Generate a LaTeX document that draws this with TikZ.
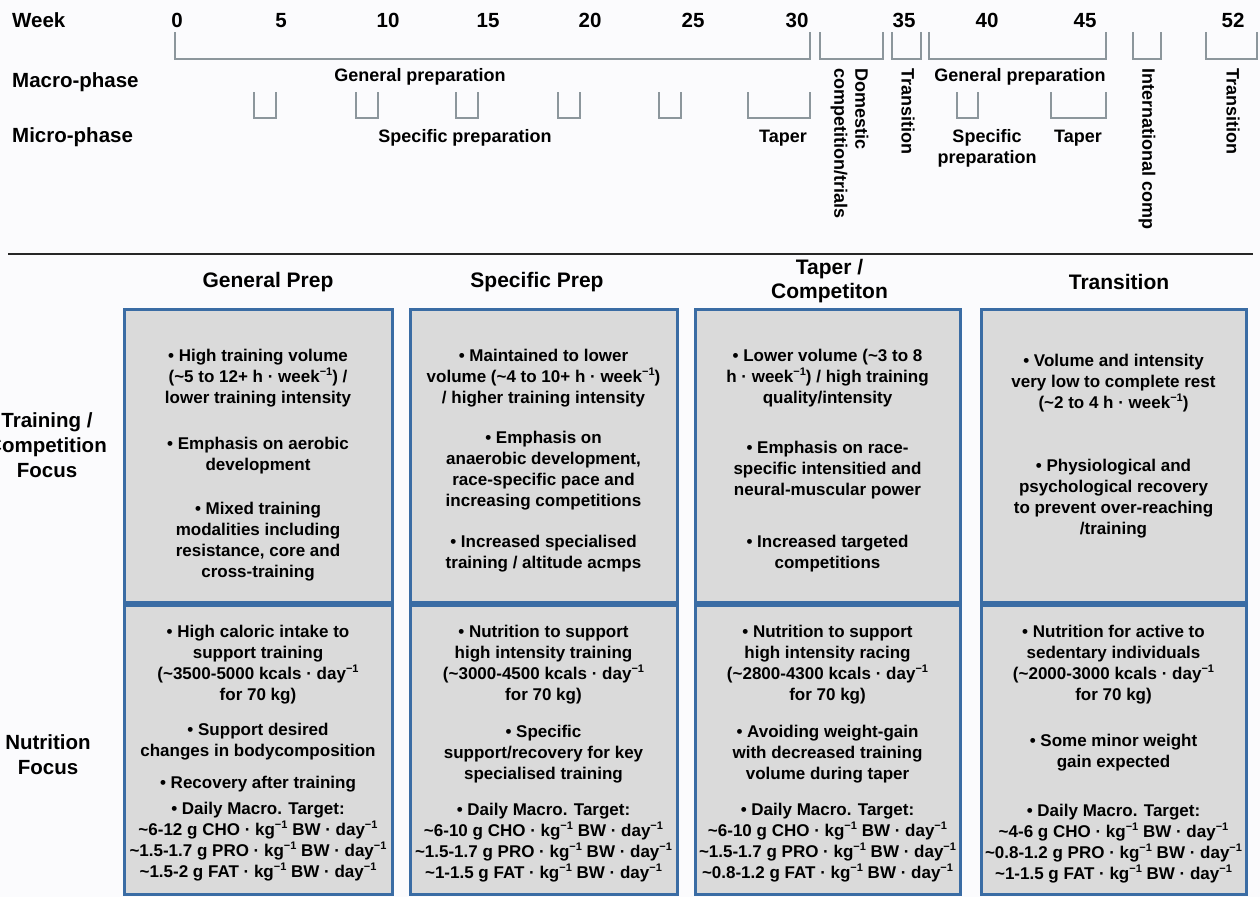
\documentclass[tikz,border=0pt]{standalone}
\usepackage{fontspec}
\setmainfont{Liberation Sans}
\usepackage{tikz}
\usetikzlibrary{positioning}
\definecolor{boxgray}{RGB}{218,218,218}
\definecolor{boxblue}{RGB}{58,108,164}
\definecolor{brkgray}{RGB}{140,150,156}
\definecolor{paper}{RGB}{251,251,253}
\newcommand{\inv}{\raisebox{0.42em}{\fontsize{11}{11}\selectfont −1}}
\newcommand{\ca}{\textasciitilde}

\begin{document}
\begin{tikzpicture}[x=1pt,y=-1pt,
  lbltxt/.style={font=\fontsize{20.5}{25}\selectfont\bfseries,anchor=base west,inner sep=0pt},
  wktxt/.style={font=\fontsize{20.5}{25}\selectfont\bfseries,anchor=base,inner sep=0pt},
  phasetxt/.style={font=\fontsize{18}{21}\selectfont\bfseries,align=center,inner sep=0pt},
  vphasetxt/.style={phasetxt,rotate=-90,anchor=west,align=left},
  brk/.style={draw=brkgray,line width=1.6pt},
  headtxt/.style={font=\fontsize{21}{24}\selectfont\bfseries,align=center,inner sep=0pt},
  rowtxt/.style={font=\fontsize{20.5}{25}\selectfont\bfseries,align=center,inner sep=0pt},
  panel/.style={fill=boxgray,draw=boxblue,line width=3pt},
  itemtxt/.style={font=\fontsize{17}{21}\selectfont\bfseries,align=center,inner sep=0pt}]
\clip (0,0) rectangle (1260,897);
\fill[paper] (0,0) rectangle (1260,897);

% time line
\node[lbltxt] (week) at (12,27) {Week};
\node[lbltxt] (macro) at (12,87) {Macro-phase};
\node[lbltxt] (micro) at (12,142) {Micro-phase};
\foreach \w/\xx in {0/177,5/281,10/388,15/488,20/590,25/693,30/797,35/904,40/987,45/1085,52/1233}
  \node[wktxt] (w\w) at (\xx,27) {\w};
% macro brackets
\foreach \xa/\xb in {175/810,820/883,892/921,929/1106,1133/1161,1206/1257}
  \draw[brk] (\xa,32) -- (\xa,59) -- (\xb,59) -- (\xb,32);
% micro brackets
\foreach \xa/\xb in {254/276,356/378,456/478,558/580,659/681,748/810,957/978,1051/1106}
  \draw[brk] (\xa,92) -- (\xa,118) -- (\xb,118) -- (\xb,92);
\node[phasetxt,anchor=base] (genA) at (420,81) {General preparation};
\node[phasetxt,anchor=base] (genB) at (1020,81) {General preparation};
\node[phasetxt,anchor=base] (specA) at (465,142) {Specific preparation};
\node[phasetxt,anchor=base] (taperA) at (783,142) {Taper};
\node[phasetxt] (specB) at (987,148) {Specific\\preparation};
\node[phasetxt,anchor=base] (taperB) at (1078,142) {Taper};
\node[vphasetxt] (dom) at (849.5,68) {Domestic\\competition/trials};
\node[vphasetxt] (transA) at (908,68) {Transition};
\node[vphasetxt] (intl) at (1147,68) {International comp};
\node[vphasetxt] (transB) at (1233,68) {Transition};

\draw[line width=2pt,black!85] (8,254) -- (1253,254);

% column heads
\node[headtxt] (hgen) at (268,282) {General Prep};
\node[headtxt] (hspec) at (537,282) {Specific Prep};
\node[headtxt] (htaper) at (829.5,281) {Taper /\\Competiton};
\node[headtxt] (htrans) at (1119,282) {Transition};

% row heads
\node[rowtxt] (rtrain) at (47,445) {Training /\\Competition\\Focus};
\node[rowtxt] (rnutr) at (48,754.5) {Nutrition\\Focus};

% panels
\foreach \xa/\xb in {124/392,410/677,695/960,981/1246} {
  \draw[panel] (\xa,309) rectangle (\xb,602);
  \draw[panel] (\xa,605) rectangle (\xb,894);
}

% training / competition focus
\node[itemtxt] (ta1) at (258,378) {\textbullet\ High training volume\\(\ca5 to 12+ h · week\inv) /\\lower training intensity};
\node[itemtxt] (ta2) at (258,455.5) {\textbullet\ Emphasis on aerobic\\development};
\node[itemtxt] (ta3) at (258,541.5) {\textbullet\ Mixed training\\modalities including\\resistance, core and\\cross-training};
\node[itemtxt] (tb1) at (543.5,378) {\textbullet\ Maintained to lower\\volume (\ca4 to 10+ h · week\inv)\\/ higher training intensity};
\node[itemtxt] (tb2) at (543.5,470.5) {\textbullet\ Emphasis on\\anaerobic development,\\race-specific pace and\\increasing competitions};
\node[itemtxt] (tb3) at (543.5,553.5) {\textbullet\ Increased specialised\\training / altitude acmps};
\node[itemtxt] (tc1) at (827.5,378) {\textbullet\ Lower volume (\ca3 to 8\\h · week\inv) / high training\\quality/intensity};
\node[itemtxt] (tc2) at (827.5,470) {\textbullet\ Emphasis on race-\\specific intensitied and\\neural-muscular power};
\node[itemtxt] (tc3) at (827.5,553.5) {\textbullet\ Increased targeted\\competitions};
\node[itemtxt] (td1) at (1113.5,383.5) {\textbullet\ Volume and intensity\\very low to complete rest\\(\ca2 to 4 h · week\inv)};
\node[itemtxt] (td2) at (1113.5,498.5) {\textbullet\ Physiological and\\psychological recovery\\to prevent over-reaching\\/training};

% nutrition focus
\node[itemtxt] (na1) at (258,664.5) {\textbullet\ High caloric intake to\\support training\\(\ca3500-5000 kcals · day\inv\\for 70 kg)};
\node[itemtxt] (na2) at (258,741.5) {\textbullet\ Support desired\\changes in bodycomposition};
\node[itemtxt] (na3) at (258,784) {\textbullet\ Recovery after training};
\node[itemtxt] (na4) at (258,842) {\textbullet\ Daily Macro. Target:\\\ca6-12 g CHO · kg\inv\ BW · day\inv\\\ca1.5-1.7 g PRO · kg\inv\ BW · day\inv\\\ca1.5-2 g FAT · kg\inv\ BW · day\inv};
\node[itemtxt] (nb1) at (543.5,664.5) {\textbullet\ Nutrition to support\\high intensity training\\(\ca3000-4500 kcals · day\inv\\for 70 kg)};
\node[itemtxt] (nb2) at (543.5,754) {\textbullet\ Specific\\support/recovery for key\\specialised training};
\node[itemtxt] (nb3) at (543.5,842.5) {\textbullet\ Daily Macro. Target:\\\ca6-10 g CHO · kg\inv\ BW · day\inv\\\ca1.5-1.7 g PRO · kg\inv\ BW · day\inv\\\ca1-1.5 g FAT · kg\inv\ BW · day\inv};
\node[itemtxt] (nc1) at (827.5,664.5) {\textbullet\ Nutrition to support\\high intensity racing\\(\ca2800-4300 kcals · day\inv\\for 70 kg)};
\node[itemtxt] (nc2) at (827.5,754) {\textbullet\ Avoiding weight-gain\\with decreased training\\volume during taper};
\node[itemtxt] (nc3) at (827.5,842.5) {\textbullet\ Daily Macro. Target:\\\ca6-10 g CHO · kg\inv\ BW · day\inv\\\ca1.5-1.7 g PRO · kg\inv\ BW · day\inv\\\ca0.8-1.2 g FAT · kg\inv\ BW · day\inv};
\node[itemtxt] (nd1) at (1113.5,664.5) {\textbullet\ Nutrition for active to\\sedentary individuals\\(\ca2000-3000 kcals · day\inv\\for 70 kg)};
\node[itemtxt] (nd2) at (1113.5,753) {\textbullet\ Some minor weight\\gain expected};
\node[itemtxt] (nd3) at (1113.5,844) {\textbullet\ Daily Macro. Target:\\\ca4-6 g CHO · kg\inv\ BW · day\inv\\\ca0.8-1.2 g PRO · kg\inv\ BW · day\inv\\\ca1-1.5 g FAT · kg\inv\ BW · day\inv};
\end{tikzpicture}
\end{document}
